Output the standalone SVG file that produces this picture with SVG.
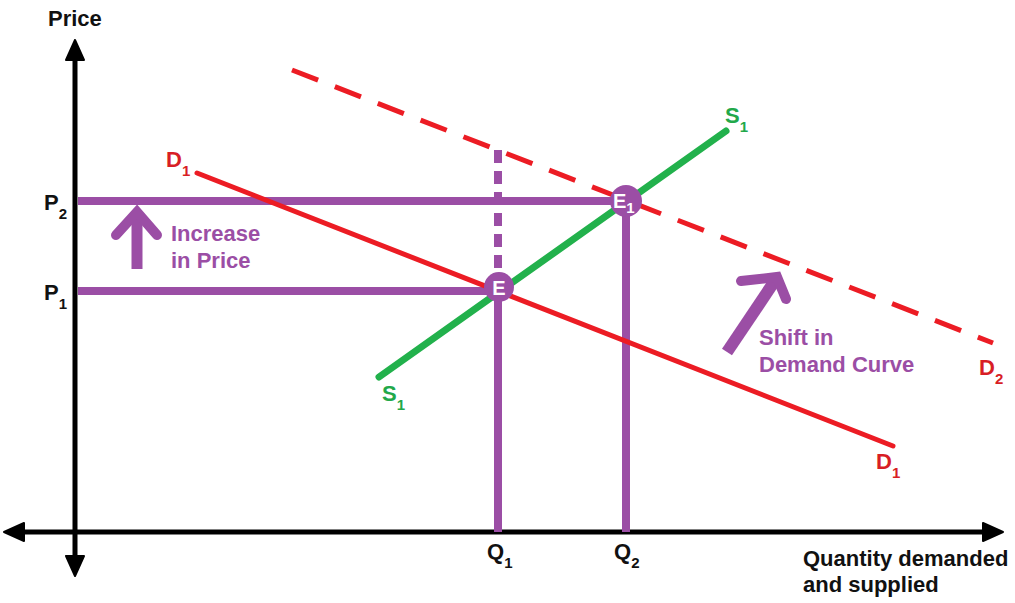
<svg xmlns="http://www.w3.org/2000/svg" width="1015" height="603" viewBox="0 0 1015 603">
<defs>
<style>
.t{font-family:"Liberation Sans",Arial,sans-serif;font-weight:bold}
.blk{fill:#111}
.red{fill:#d81e25}
.grn{fill:#22a84a}
.pur{fill:#9b4ea5}
.wht{fill:#fff}
.sub{font-size:15px}
.axis{stroke:#000;stroke-width:5;fill:none}
.pl{stroke:#9b4ea5;stroke-width:8;fill:none;stroke-linecap:butt}
</style>
</defs>
<rect width="1015" height="603" fill="#fff"/>
<g id="axes">
<line class="axis" x1="75" y1="56" x2="75" y2="560"/>
<polygon points="75,40 66,60 84,60" fill="#000" stroke="#000" stroke-width="2" stroke-linejoin="round"/>
<polygon points="75,576 66,556 84,556" fill="#000" stroke="#000" stroke-width="2" stroke-linejoin="round"/>
<line class="axis" x1="20" y1="532" x2="988" y2="532"/>
<polygon points="4,532 24,523 24,541" fill="#000" stroke="#000" stroke-width="2" stroke-linejoin="round"/>
<polygon points="1003,532 983,523 983,541" fill="#000" stroke="#000" stroke-width="2" stroke-linejoin="round"/>
<text class="t blk" x="48" y="26" font-size="22">Price</text>
<text class="t blk" x="803" y="566" font-size="22">Quantity demanded</text>
<text class="t blk" x="803" y="592" font-size="22">and supplied</text>
</g>
<g id="connectors">
<line class="pl" x1="78" y1="201" x2="626" y2="201"/>
<line class="pl" x1="78" y1="291" x2="498" y2="291"/>
<line class="pl" x1="498" y1="291" x2="498" y2="532"/>
<line class="pl" x1="626" y1="201" x2="626" y2="532"/>
<line class="pl" x1="498" y1="150" x2="498" y2="288" stroke-dasharray="13,8"/>
</g>
<g id="demand1">
<line x1="197" y1="173" x2="893" y2="446" stroke="#ec1c24" stroke-width="5" stroke-linecap="round"/>
<text class="t red" x="166" y="167" font-size="22">D<tspan class="sub" dy="9">1</tspan></text>
<text class="t red" x="876" y="469" font-size="22">D<tspan class="sub" dy="9">1</tspan></text>
</g>
<g id="demand2">
<line x1="292" y1="70" x2="993" y2="343" stroke="#ec1c24" stroke-width="5" stroke-dasharray="28,18"/>
<text class="t red" x="979" y="375" font-size="22">D<tspan class="sub" dy="9">2</tspan></text>
</g>
<g id="supply">
<line x1="379" y1="377" x2="726" y2="131" stroke="#22b14c" stroke-width="7" stroke-linecap="round"/>
<text class="t grn" x="382" y="401" font-size="22">S<tspan class="sub" dy="9">1</tspan></text>
<text class="t grn" x="725" y="123" font-size="22">S<tspan class="sub" dy="9">1</tspan></text>
</g>
<g id="E">
<circle cx="499" cy="287" r="15" fill="#9b4ea5"/>
<text class="t wht" x="499" y="295" font-size="20" text-anchor="middle">E</text>
</g>
<g id="E1">
<circle cx="626" cy="201" r="16" fill="#9b4ea5"/>
<text class="t wht" x="613" y="208" font-size="20">E<tspan class="sub" font-size="13" dy="5">1</tspan></text>
</g>
<g id="prices">
<text class="t blk" x="44" y="210" font-size="22">P<tspan class="sub" dy="9">2</tspan></text>
<text class="t blk" x="44" y="300" font-size="22">P<tspan class="sub" dy="9">1</tspan></text>
</g>
<g id="quantities">
<text class="t blk" x="487" y="559" font-size="22">Q<tspan class="sub" dy="9">1</tspan></text>
<text class="t blk" x="614" y="559" font-size="22">Q<tspan class="sub" dy="9">2</tspan></text>
</g>
<g id="increase">
<polyline points="137,269 137,212" stroke="#9b4ea5" stroke-width="11" fill="none"/>
<polyline points="116,235 137,212 157,235" stroke="#9b4ea5" stroke-width="10" fill="none" stroke-linecap="round" stroke-linejoin="miter"/>
<text class="t pur" x="171" y="241" font-size="22">Increase</text>
<text class="t pur" x="171" y="268" font-size="22">in Price</text>
</g>
<g id="shift">
<line x1="727" y1="352" x2="774" y2="282" stroke="#9b4ea5" stroke-width="12"/>
<polyline points="741,281 777,277 786,299" stroke="#9b4ea5" stroke-width="10" fill="none" stroke-linecap="round"/>
<text class="t pur" x="759" y="345" font-size="22">Shift in</text>
<text class="t pur" x="759" y="372" font-size="22">Demand Curve</text>
</g>
</svg>
